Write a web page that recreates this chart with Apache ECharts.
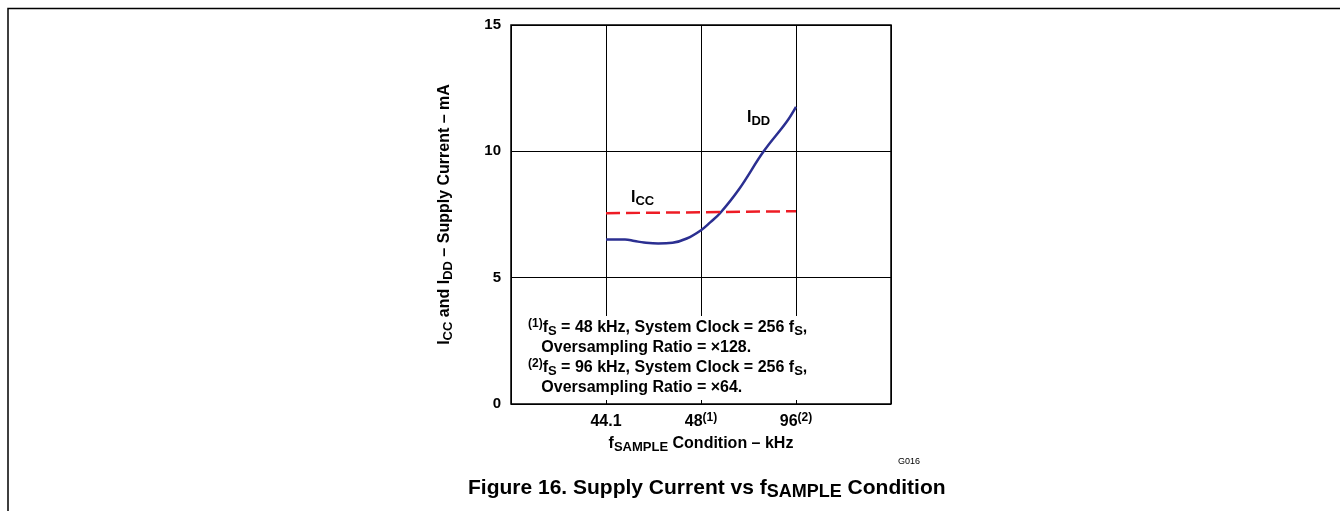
<!DOCTYPE html>
<html><head><meta charset="utf-8">
<script src="https://cdn.jsdelivr.net/npm/echarts@6/dist/echarts.min.js"></script>
<style>html,body{margin:0;padding:0;background:#fff}#c{width:1340px;height:511px}</style>
</head><body><div id="c"></div>
<script>
// x positions: 1 = 44.1 kHz, 2 = 48 kHz (1), 3 = 96 kHz (2)
const xTickLabels = {1: '{n|44.1}', 2: '{n|48}{sup|(1)}', 3: '{n|96}{sup|(2)}'};
const iddX = [1.0, 1.2, 1.3, 1.4, 1.55, 1.7, 1.85, 2.0, 2.1, 2.2, 2.4, 2.66, 2.9, 3.0];
const iddY = [6.51, 6.51, 6.45, 6.39, 6.35, 6.38, 6.55, 6.88, 7.2, 7.55, 8.5, 10.0, 11.16, 11.76];
const iccX = [1.0, 3.0];
const iccY = [7.55, 7.63];
const yTicks = [0, 5, 10, 15];

const F = '"Liberation Sans", Arial, sans-serif';
const base = {fontFamily: F, fontWeight: 'bold', color: '#000'};
const richSet = (fs) => ({
  n: Object.assign({}, base, {fontSize: fs, lineHeight: fs + 4, verticalAlign: 'middle'}),
  sub: Object.assign({}, base, {fontSize: fs - 3, lineHeight: fs - 1, verticalAlign: 'bottom'}),
  sup: Object.assign({}, base, {fontSize: fs - 4, lineHeight: fs - 3, verticalAlign: 'top'})
});

const chart = echarts.init(document.getElementById('c'), null, {renderer: 'canvas'});
const gl = 511, gt = 25, gw = 380, gh = 379;
chart.setOption({
  animation: false,
  grid: {left: gl, top: gt, width: gw, height: gh, show: true, borderColor: '#000', borderWidth: 1.5, containLabel: false},
  xAxis: {
    type: 'value', min: 0, max: 4, interval: 1,
    axisLine: {show: false}, axisTick: {show: false},
    splitLine: {show: true, lineStyle: {color: '#000', width: 1}},
    axisLabel: {
      margin: 8, fontFamily: F, fontWeight: 'bold', fontSize: 16, color: '#000',
      formatter: v => xTickLabels[v] || '',
      rich: richSet(16)
    },
    name: '{n|f}{sub|SAMPLE}{n| Condition – kHz}',
    nameLocation: 'middle', nameGap: 30,
    nameTextStyle: {rich: richSet(16)}
  },
  yAxis: {
    type: 'value', min: 0, max: 15, interval: 5,
    axisLine: {show: false}, axisTick: {show: false},
    splitLine: {show: true, lineStyle: {color: '#000', width: 1}},
    axisLabel: {margin: 10, fontFamily: F, fontWeight: 'bold', fontSize: 15, color: '#000',
      formatter: v => yTicks.includes(v) ? String(v) : ''},
    name: '{n|I}{sub|CC}{n| and I}{sub|DD}{n| – Supply Current – mA}',
    nameLocation: 'middle', nameGap: 56, nameRotate: 90,
    nameTextStyle: {rich: richSet(16)}
  },
  series: [
    {type: 'line', data: iddX.map((x, i) => [x, iddY[i]]), smooth: 0.4, symbol: 'none',
      lineStyle: {color: '#2b2f91', width: 2.5}, z: 3},
    {type: 'line', data: iccX.map((x, i) => [x, iccY[i]]), symbol: 'none',
      lineStyle: {color: '#ee1c25', width: 2.5, type: [14, 6]}, z: 4}
  ],
  graphic: [
    {type: 'polyline', shape: {points: [[8, 511], [8, 8.5], [1340, 8.5]]}, style: {stroke: '#000', lineWidth: 1.5, fill: null}},
    {type: 'rect', shape: {x: 524, y: 316, width: 290, height: 84}, style: {fill: '#fff'}, z: 50},
    {type: 'text', left: 528, top: 318, z: 60,
      style: {
        text: '{sup|(1)}{n|f}{sub|S}{n| = 48 kHz, System Clock = 256 f}{sub|S}{n|,}\n{n|   Oversampling Ratio = ×128.}\n{sup|(2)}{n|f}{sub|S}{n| = 96 kHz, System Clock = 256 f}{sub|S}{n|,}\n{n|   Oversampling Ratio = ×64.}',
        rich: richSet(16)
      }},
    {type: 'text', left: 747, top: 110, z: 60, style: {text: '{n|I}{sub|DD}', rich: richSet(16)}},
    {type: 'text', left: 631, top: 190, z: 60, style: {text: '{n|I}{sub|CC}', rich: richSet(16)}},
    {type: 'text', left: 898, top: 457, z: 60, style: {text: 'G016', font: '9px ' + F, fill: '#000'}},
    {type: 'text', left: 468, top: 478, z: 60, style: {text: '{n|Figure 16. Supply Current vs f}{sub|SAMPLE}{n| Condition}', rich: richSet(21)}}
  ]
});
</script></body></html>
